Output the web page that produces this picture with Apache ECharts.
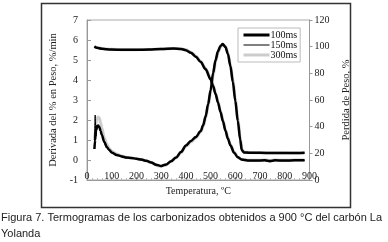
<!DOCTYPE html>
<html>
<head>
<meta charset="utf-8">
<script src="https://cdn.jsdelivr.net/npm/echarts@6/dist/echarts.min.js"></script>
<style>
  html, body { margin: 0; padding: 0; background: #fff; }
  #chart { width: 388px; height: 242px; }
</style>
</head>
<body>
<div id="chart"></div>
<script>
(function () {
  "use strict";

  // -- données --
  const seriesNames = ["100ms", "150ms", "300ms"];

  // DTG (dérivée, %/min) - axe gauche
  const tempDTG = [30, 33, 36, 40, 45, 50, 55, 60, 70, 80, 90, 100, 120, 140, 160, 180, 200, 220, 240, 260,
    280, 300, 320, 340, 360, 380, 400, 420, 440, 460, 470, 480, 490, 500, 510, 520, 530, 540, 549, 560,
    570, 580, 590, 600, 610, 620, 626, 635, 660, 700, 750, 800, 850, 880];
  const dtg100 = [0.55, 1.0, 1.5, 1.7, 1.72, 1.65, 1.45, 1.25, 0.9, 0.65, 0.5, 0.38, 0.25, 0.18, 0.12, 0.1, 0.06, 0.02, -0.04, -0.12,
    -0.24, -0.3, -0.22, -0.06, 0.12, 0.4, 0.72, 0.95, 1.15, 1.45, 1.75, 2.2, 2.8, 3.5, 4.35, 5.0, 5.45, 5.7, 5.8, 5.65,
    5.3, 4.7, 3.9, 2.95, 1.95, 1.0, 0.5, 0.38, 0.36, 0.36, 0.35, 0.35, 0.35, 0.36];
  const dtg150 = [0.6, 2.25, 1.2, 1.5, 1.68, 1.6, 1.42, 1.22, 0.88, 0.62, 0.48, 0.36, 0.24, 0.2, 0.1, 0.12, 0.05, 0.0, -0.05, -0.14,
    -0.25, -0.3, -0.24, -0.08, 0.1, 0.38, 0.7, 0.93, 1.12, 1.42, 1.72, 2.15, 2.75, 3.45, 4.3, 4.95, 5.42, 5.68, 5.78, 5.62,
    5.28, 4.68, 3.88, 2.92, 1.9, 0.95, 0.45, 0.36, 0.35, 0.36, 0.35, 0.34, 0.35, 0.35];
  const dtg300 = [1.0, 1.4, 1.8, 2.05, 2.15, 2.1, 1.85, 1.6, 1.1, 0.8, 0.58, 0.44, 0.3, 0.2, 0.14, 0.1, 0.06, 0.02, -0.05, -0.13,
    -0.26, -0.32, -0.25, -0.08, 0.1, 0.36, 0.68, 0.9, 1.1, 1.4, 1.68, 2.1, 2.7, 3.4, 4.2, 4.9, 5.38, 5.65, 5.76, 5.68,
    5.35, 4.78, 4.0, 3.05, 2.05, 1.1, 0.55, 0.4, 0.37, 0.36, 0.36, 0.36, 0.35, 0.35];

  // TG (perte de masse, %) - axe droit
  const tempTG = [30, 40, 60, 80, 100, 150, 200, 250, 300, 350, 380, 400, 420, 440, 460, 480, 500, 510, 520, 530,
    540, 550, 560, 570, 580, 595, 610, 625, 650, 680, 720, 740, 760, 800, 840, 880];
  const tg100 = [100, 99.2, 98.4, 98, 97.8, 97.6, 97.6, 97.8, 98.2, 98.6, 98.3, 97.4, 95.5, 92.5, 88.5, 83, 75.5, 70.5, 64.5, 58,
    51, 44, 37, 31, 26, 20.5, 17, 15.4, 14.7, 14.6, 14.8, 14.2, 14.8, 14.6, 14.8, 14.8];
  const tg150 = [100, 99, 98.3, 97.9, 97.7, 97.5, 97.5, 97.7, 98.1, 98.5, 98.2, 97.2, 95.3, 92.3, 88.2, 82.6, 75, 70, 64, 57.5,
    50.5, 43.5, 36.5, 30.6, 25.6, 20.2, 16.8, 15.2, 14.5, 14.4, 14.6, 13.6, 14.6, 14.4, 14.6, 14.6];
  const tg300 = [100.3, 99.4, 98.6, 98.2, 98, 97.7, 97.7, 97.9, 98.3, 98.7, 98.5, 97.7, 95.9, 93, 89, 83.6, 76.2, 71.2, 65.2, 58.8,
    51.8, 44.8, 37.8, 31.6, 26.6, 21, 17.3, 15.6, 14.9, 14.8, 15, 14.6, 15, 14.8, 15, 15];

  const styles = {
    "100ms": { color: "#000000", width: 2.5, z: 4 },
    "150ms": { color: "#000000", width: 1, z: 5 },
    "300ms": { color: "#cccccc", width: 3, z: 3 },
  };

  const pair = (xs, ys) => xs.map((x, i) => [x, ys[i]]);
  const serif = "Liberation Serif";

  function line(name, data, yIdx) {
    const s = styles[name];
    return {
      name: name, type: "line", yAxisIndex: yIdx, data: data,
      symbol: "none", smooth: 0.3, smoothMonotone: "x", z: s.z,
      lineStyle: { color: s.color, width: s.width },
      itemStyle: { color: s.color },
    };
  }

  const chart = echarts.init(document.getElementById("chart"), null, { renderer: "canvas" });

  chart.setOption({
    animation: false,
    backgroundColor: "#ffffff",
    title: {
      text: "Figura 7. Termogramas de los carbonizados obtenidos a 900 °C del carbón La\nYolanda",
      left: 1, top: 210, padding: 0,
      textStyle: { fontFamily: "Liberation Sans", fontSize: 11, fontWeight: "normal", color: "#222", lineHeight: 16 },
    },
    graphic: [{
      type: "rect", shape: { x: 41.5, y: 3.5, width: 309, height: 204 },
      style: { fill: "none", stroke: "#333", lineWidth: 1.5 }, silent: true,
    }],
    legend: {
      data: seriesNames.map((n) => ({
        name: n,
        lineStyle: { color: styles[n].color, width: n === "100ms" ? 3 : styles[n].width },
      })),
      orient: "vertical", left: 238, top: 28,
      padding: [2, 3, 2, 4], itemGap: 0, itemWidth: 26, itemHeight: 8,
      itemStyle: { opacity: 0 },
      backgroundColor: "#fff", borderColor: "#bbb", borderWidth: 1, borderRadius: 0,
      textStyle: { fontFamily: serif, fontSize: 10, color: "#111", lineHeight: 9.5, padding: [0, 0, 0, -4] },
    },
    grid: { left: 87, right: 78.5, top: 20, bottom: 62, show: true, borderColor: "#aaa", borderWidth: 1 },
    xAxis: {
      type: "value", min: 0, max: 900, interval: 100,
      name: "Temperatura, ºC", nameLocation: "middle", nameGap: 5,
      nameTextStyle: { fontFamily: serif, fontSize: 10, color: "#222" },
      axisLine: { show: true, onZero: false, lineStyle: { color: "#999" } },
      axisTick: { show: true, inside: true, length: 3, lineStyle: { color: "#999" } },
      minorTick: { show: true, splitNumber: 5, length: 2, lineStyle: { color: "#bbb" } },
      axisLabel: { fontFamily: serif, fontSize: 10, color: "#222", margin: -9 },
      splitLine: { show: false },
    },
    yAxis: [{
      type: "value", min: -1, max: 7, interval: 1, position: "left",
      name: "Derivada del % en Peso, %/min", nameLocation: "middle", nameGap: 12, nameRotate: 90,
      nameTextStyle: { fontFamily: serif, fontSize: 10.5, color: "#222" },
      axisLine: { show: true, lineStyle: { color: "#999" } },
      axisTick: { show: true, inside: true, length: 4, lineStyle: { color: "#999" } },
      axisLabel: { fontFamily: serif, fontSize: 10, color: "#222", margin: 9 },
      splitLine: { show: false },
    }, {
      type: "value", min: 0, max: 120, interval: 20, position: "right",
      name: "Perdida de Peso, %", nameLocation: "middle", nameGap: 19, nameRotate: 90,
      nameTextStyle: { fontFamily: serif, fontSize: 10.5, color: "#222" },
      axisLine: { show: true, lineStyle: { color: "#999" } },
      axisTick: { show: true, length: 3, lineStyle: { color: "#999" } },
      axisLabel: { fontFamily: serif, fontSize: 10, color: "#222", margin: 5 },
      splitLine: { show: false },
    }],
    series: [
      line("300ms", pair(tempTG, tg300), 1),
      line("300ms", pair(tempDTG, dtg300), 0),
      line("100ms", pair(tempTG, tg100), 1),
      line("100ms", pair(tempDTG, dtg100), 0),
      line("150ms", pair(tempTG, tg150), 1),
      line("150ms", pair(tempDTG, dtg150), 0),
    ],
  });
})();
</script>
</body>
</html>
